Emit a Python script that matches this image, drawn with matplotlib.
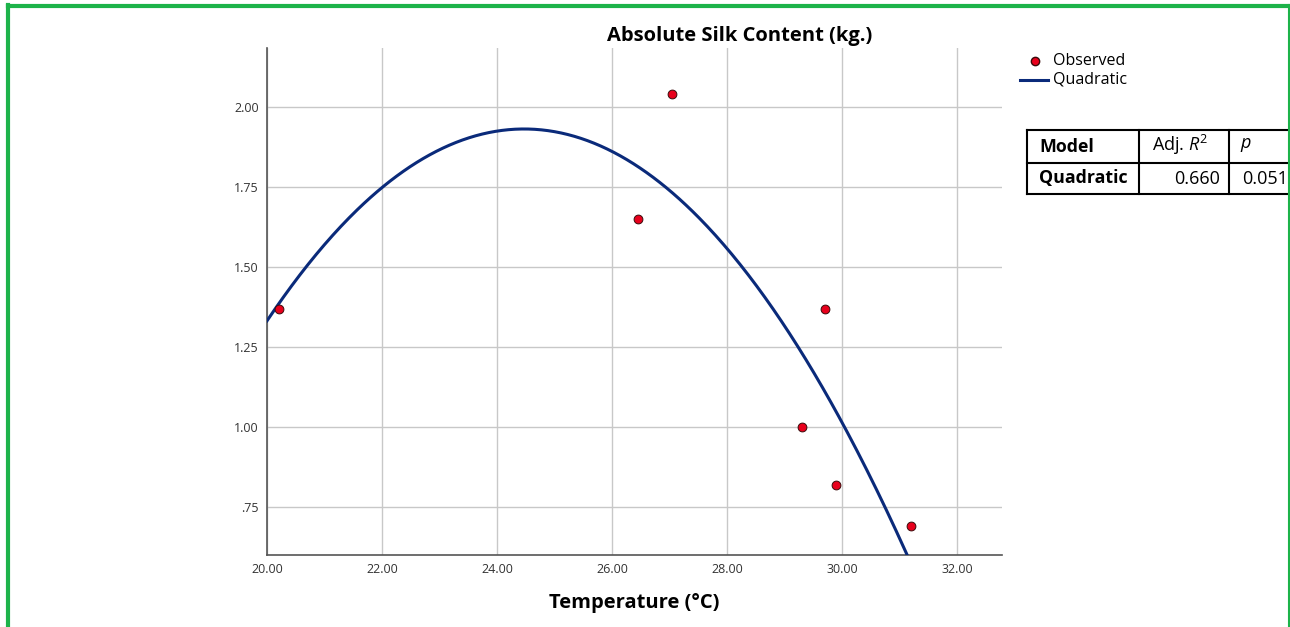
import numpy as np
import matplotlib.pyplot as plt
from matplotlib.lines import Line2D

# observed points
temperature = [20.2, 26.45, 27.05, 29.7, 29.3, 29.9, 31.2]
silk = [1.37, 1.65, 2.04, 1.37, 1.00, 0.82, 0.69]

# quadratic fit (vertex form)
peak_x = 24.47
peak_y = 1.931
curv = -0.0300

x_ticks = [20, 22, 24, 26, 28, 30, 32]
y_ticks = [0.75, 1.00, 1.25, 1.50, 1.75, 2.00]
y_labels = ['.75', '1.00', '1.25', '1.50', '1.75', '2.00']

table_header = ['Model', 'Adj. $R^2$', '$p$']
table_row = ['Quadratic', '0.660', '0.051']

plt.rcParams['font.family'] = ['Open Sans', 'DejaVu Sans']
plt.rcParams['mathtext.fontset'] = 'custom'
plt.rcParams['mathtext.it'] = 'Open Sans:italic'
plt.rcParams['mathtext.rm'] = 'Open Sans'

fig = plt.figure(figsize=(12.9, 6.27), dpi=100)
ax = fig.add_axes([267/1290, 72/627, 735/1290, 507/627])

xs = np.linspace(20.0, 31.4, 400)
ys = curv * (xs - peak_x) ** 2 + peak_y
ax.plot(xs, ys, color='#0a2a7a', lw=2.2, zorder=3)
ax.scatter(temperature, silk, s=40, color='#e8001c', edgecolors='#3a0a0a',
           linewidths=0.7, zorder=4)

ax.set_xlim(20.0, 32.78)
ax.set_ylim(0.60, 2.184)
ax.set_xticks(x_ticks)
ax.set_xticklabels(['%.2f' % v for v in x_ticks])
ax.set_yticks(y_ticks)
ax.set_yticklabels(y_labels)
ax.tick_params(length=0, labelsize=9, colors='#333333', pad=6)
ax.grid(color='#c8c8c8', lw=1.0)
ax.set_axisbelow(True)
for s in ['top', 'right']:
    ax.spines[s].set_visible(False)
for s in ['left', 'bottom']:
    ax.spines[s].set_color('#555555')
    ax.spines[s].set_linewidth(1.2)

ax.set_xlabel('Temperature (°C)', fontsize=14.5, fontweight='bold', labelpad=12)
fig.text(740/1290, 1 - 36/627, 'Absolute Silk Content (kg.)', ha='center', va='center',
         fontsize=14.5, fontweight='bold')

# legend
fig.add_artist(Line2D([1035/1290], [1 - 61/627], marker='o', color='none',
                      markerfacecolor='#e8001c', markeredgecolor='#3a0a0a',
                      markersize=6, transform=fig.transFigure))
fig.add_artist(Line2D([1020/1290, 1048/1290], [1 - 80/627, 1 - 80/627],
                      color='#0a2a7a', lw=2.2, transform=fig.transFigure))
fig.text(1053/1290, 1 - 61/627, 'Observed', va='center', fontsize=11.5)
fig.text(1053/1290, 1 - 80/627, 'Quadratic', va='center', fontsize=11.5)

# stats table
col_x = [1027, 1139, 1229]
row_y = [130, 163, 194]
def fx(px):
    return px / 1290
def fy(py):
    return 1 - py / 627
for yy in row_y:
    fig.add_artist(Line2D([fx(col_x[0]), fx(1290)], [fy(yy), fy(yy)],
                          color='black', lw=1.5, transform=fig.transFigure))
for xx in col_x:
    fig.add_artist(Line2D([fx(xx), fx(xx)], [fy(row_y[0]), fy(row_y[2])],
                          color='black', lw=1.5, transform=fig.transFigure))
ymid1 = fy((row_y[0] + row_y[1]) / 2)
ymid2 = fy((row_y[1] + row_y[2]) / 2)
fig.text(fx(1039), ymid1, table_header[0], va='center', fontsize=12.8, fontweight='bold')
fig.text(fx(1152), ymid1 + 0.003, table_header[1], va='center', fontsize=13)
fig.text(fx(1240), ymid1 + 0.003, table_header[2], va='center', fontsize=13)
fig.text(fx(1039), ymid2, table_row[0], va='center', fontsize=12.8, fontweight='bold')
fig.text(fx(1220), ymid2, table_row[1], va='center', ha='right', fontsize=13)
fig.text(fx(1288), ymid2, table_row[2], va='center', ha='right', fontsize=13)

# green frame
fig.add_artist(Line2D([fx(8), fx(8)], [0, fy(5)], color='#1db34a', lw=3,
                      transform=fig.transFigure))
fig.add_artist(Line2D([fx(8), 1], [fy(5.5), fy(5.5)], color='#1db34a', lw=3,
                      transform=fig.transFigure))
fig.add_artist(Line2D([fx(1289.3), fx(1289.3)], [0, fy(5)], color='#1db34a', lw=1.5,
                      transform=fig.transFigure))

fig.savefig('out.png', dpi=100)
